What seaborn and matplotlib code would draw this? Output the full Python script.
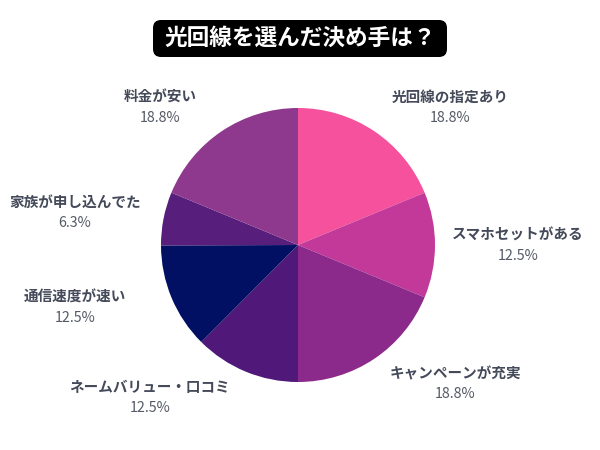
import matplotlib
matplotlib.use("Agg")
import matplotlib.pyplot as plt
import seaborn as sns
from matplotlib.patches import FancyBboxPatch

sns.set_theme(style="white")
plt.rcParams['font.family'] = ['Noto Sans CJK JP', 'DejaVu Sans']

# Data
categories = ["光回線の指定あり", "スマホセットがある", "キャンペーンが充実",
              "ネームバリュー・口コミ", "通信速度が速い", "家族が申し込んでた", "料金が安い"]
values = [18.8, 12.5, 18.8, 12.5, 12.5, 6.3, 18.8]
pct_labels = ["18.8%", "12.5%", "18.8%", "12.5%", "12.5%", "6.3%", "18.8%"]
title = "光回線を選んだ決め手は？"

# Style
colors = ["#F6519C", "#C2399A", "#8C2A8C", "#4F1879", "#011062", "#581E7B", "#8E398D"]
label_xy = [(450, 97), (518, 235), (455, 373), (150, 387), (75, 297), (75, 202), (160, 97)]

fig = plt.figure(figsize=(6, 4.5), dpi=100)
ax = fig.add_axes([0, 0, 1, 1])
W, H = 600, 450
cx, cy, r = 298, 245, 137

ax.pie(values, colors=colors, startangle=90, counterclock=False,
       center=(cx, H - cy), radius=r,
       wedgeprops=dict(linewidth=0))
ax.set_xlim(0, W)
ax.set_ylim(0, H)
ax.set_aspect("equal")
ax.axis("off")

for name, pct, (x, y) in zip(categories, pct_labels, label_xy):
    ax.text(x, H - y, name, ha="center", va="center", fontsize=10.5,
            fontweight="bold", color="#454a5a")
    ax.text(x, H - y - 21, pct, ha="center", va="center", fontsize=10.3,
            color="#555a66")

# Title box
box = FancyBboxPatch((153, H - 57), 294, 37, boxstyle="round,pad=0,rounding_size=8",
                     facecolor="black", edgecolor="none")
ax.add_patch(box)
ax.text(300, H - 38.5, title, ha="center", va="center", fontsize=16.3,
        fontweight="bold", color="white")

fig.savefig("out.png", dpi=100)
